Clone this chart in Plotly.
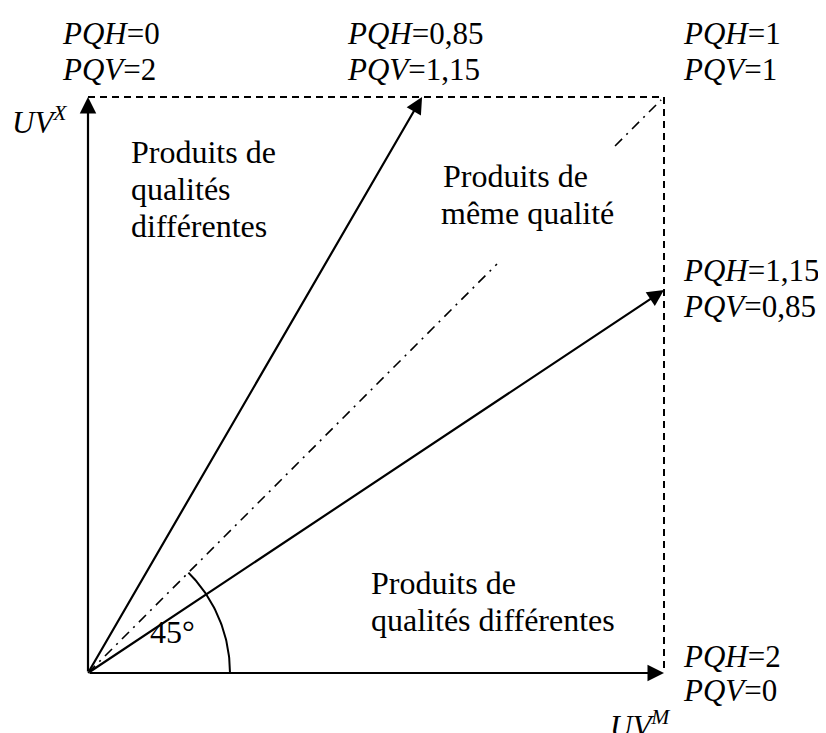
import numpy as np
import plotly.graph_objects as go

# ---- data (diagram units: box spans 0..1 on both axes) ----
arrow_end_x = [0.0, 0.58, 1.0, 1.0]
arrow_end_y = [1.0, 1.0, 0.665, 0.0]
pqh_labels = ["0", "0,85", "1", "1,15", "2"]
pqv_labels = ["2", "1,15", "1", "0,85", "0"]
diag_seg1 = [0.0, 0.71]
diag_seg2 = [0.915, 0.995]
angle_deg = 45

W, H = 826, 733
OX, OY, U = 88, 673, 576  # origin pixel (screen) and unit length
PAGE = 8  # default body margin of the html page


def px(x):
    return (x - OX) / U


def py(y):
    return (OY - y) / U


FAMILY = "Liberation Serif, Times New Roman, serif"

fig = go.Figure()

# dashed box (top and right sides)
fig.add_trace(go.Scatter(x=[0, 1, 1], y=[1, 1, 0], mode="lines",
                         line=dict(color="black", width=2, dash="7px,5px"),
                         hoverinfo="skip", showlegend=False))
# dash-dot diagonal (interrupted by text)
for seg in (diag_seg1, diag_seg2):
    fig.add_trace(go.Scatter(x=seg, y=seg, mode="lines",
                             line=dict(color="black", width=1.6, dash="10px,6px,2px,6px"),
                             hoverinfo="skip", showlegend=False))
# 45 degree arc
r = 142 / U
t = np.linspace(0, np.radians(angle_deg), 60)
fig.add_trace(go.Scatter(x=r * np.cos(t), y=r * np.sin(t), mode="lines",
                         line=dict(color="black", width=2),
                         hoverinfo="skip", showlegend=False))

annotations = []
# arrows from origin
for ex, ey in zip(arrow_end_x, arrow_end_y):
    annotations.append(dict(x=ex, y=ey, ax=0, ay=0, xref="x", yref="y",
                            axref="x", ayref="y", text="", showarrow=True,
                            arrowhead=2, arrowsize=1.5, arrowwidth=2.2,
                            arrowcolor="black", standoff=0, startstandoff=0))


def txt(s, x, y, size=32):
    annotations.append(dict(x=px(x), y=py(y), xref="x", yref="y", text=s,
                            showarrow=False, xanchor="left", yanchor="middle",
                            font=dict(family=FAMILY, size=size, color="black")))


# PQH/PQV labels
label_pos = [(60, 33, 69), (345, 33, 69), (681, 33, 69), (681, 270, 306), (681, 656, 690)]
for (lx, y1, y2), h, v in zip(label_pos, pqh_labels, pqv_labels):
    txt(f"<i>PQH</i>={h}", lx, y1, 31)
    txt(f"<i>PQV</i>={v}", lx, y2, 31)

txt("<i>UV</i><sup><i>X</i></sup>", 10, 120, 31)
txt("<i>UV</i><sup><i>M</i></sup>", 608, 724, 31)

txt("Produits de", 129, 152)
txt("qualités", 129, 189)
txt("différentes", 129, 226)

txt("Produits de", 441, 176)
txt("même qualité", 439, 213)

txt("Produits de", 369, 583)
txt("qualités différentes", 369, 620)

txt("45°", 148, 632)

fig.update_layout(
    width=W, height=H,
    margin=dict(l=0, r=0, t=0, b=0),
    paper_bgcolor="white", plot_bgcolor="white",
    xaxis=dict(range=[px(PAGE), px(PAGE + W)], visible=False, fixedrange=True),
    yaxis=dict(range=[py(PAGE + H), py(PAGE)], visible=False, fixedrange=True),
    annotations=annotations,
    showlegend=False,
)

fig.write_html("out.html")
